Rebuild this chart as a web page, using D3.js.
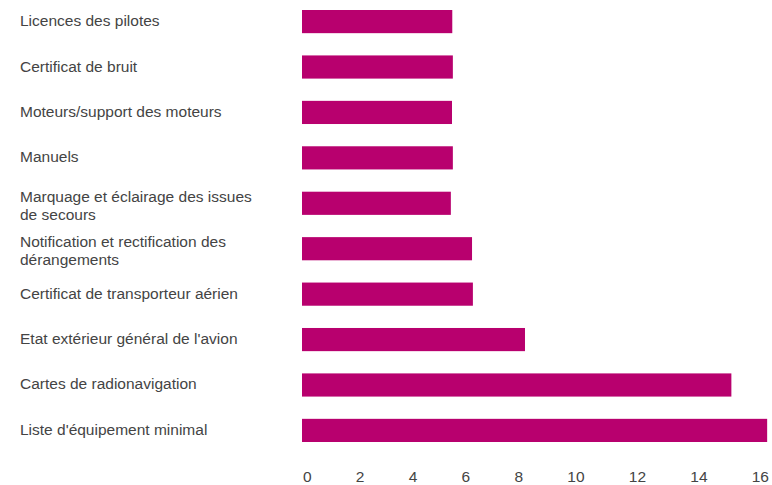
<!DOCTYPE html>
<html>
<head>
<meta charset="utf-8">
<script src="https://cdn.jsdelivr.net/npm/d3@7"></script>
<style>
  html, body { margin: 0; padding: 0; background: #fff; }
  svg { display: block; }
  text { font-family: "Liberation Sans", Arial, Helvetica, sans-serif; }
</style>
</head>
<body>
<svg id="chart" width="772" height="485"></svg>
<script>
const categories = [
  "Licences des pilotes",
  "Certificat de bruit",
  "Moteurs/support des moteurs",
  "Manuels",
  "Marquage et éclairage des issues de secours",
  "Notification et rectification des dérangements",
  "Certificat de transporteur aérien",
  "Etat extérieur général de l'avion",
  "Cartes de radionavigation",
  "Liste d'équipement minimal"
];
const values = [5.25, 5.27, 5.24, 5.27, 5.2, 5.94, 5.97, 7.79, 15.0, 16.25];
const tickValues = [0, 2, 4, 6, 8, 10, 12, 14, 16];

const W = 772, H = 485;
const barColor = "#b8006e";
const textColor = "#444";
const fontSize = 15.5;
const lineHeight = 18;
const labelX = 20;
const wrapWidth = 240;

const svg = d3.select("#chart");

const x = d3.scaleLinear().domain([0, 16]).range([302, 760]);
const y = d3.scaleBand().domain(categories).range([10, 442]).paddingInner(0.49).paddingOuter(0);

// Bars
svg.append("g").selectAll("rect")
  .data(categories.map((c, i) => ({ c, v: values[i] })))
  .join("rect")
  .attr("x", x(0))
  .attr("y", d => y(d.c))
  .attr("width", d => x(d.v) - x(0))
  .attr("height", y.bandwidth())
  .attr("fill", barColor);

// Category labels with wrapping
const labels = svg.append("g").selectAll("text")
  .data(categories)
  .join("text")
  .attr("x", labelX)
  .attr("fill", textColor)
  .attr("font-size", fontSize);

labels.each(function(c) {
  const t = d3.select(this);
  const words = c.split(" ");
  const lines = [];
  let line = [];
  const probe = t.append("tspan");
  words.forEach(w => {
    const trial = line.concat([w]).join(" ");
    probe.text(trial);
    if (probe.node().getComputedTextLength() > wrapWidth && line.length) {
      lines.push(line.join(" "));
      line = [w];
    } else {
      line.push(w);
    }
  });
  lines.push(line.join(" "));
  probe.remove();
  const n = lines.length;
  const center = y(c) + y.bandwidth() / 2;
  const first = center + 4.5 - (n - 1) * (lineHeight / 2) + (n - 1) * 3;
  lines.forEach((l, k) => {
    t.append("tspan").attr("x", labelX).attr("y", first + k * lineHeight).text(l);
  });
});

// Bottom axis labels (no domain line, no ticks)
const axisG = svg.append("g")
  .attr("transform", `translate(0, ${H - 14})`)
  .call(d3.axisBottom(x).tickValues(tickValues).tickSize(0).tickPadding(0).tickFormat(d3.format("d")));
axisG.select(".domain").remove();
axisG.selectAll("text")
  .attr("fill", textColor)
  .attr("font-size", fontSize)
  .attr("font-family", "Liberation Sans, Arial, Helvetica, sans-serif")
  .attr("dy", "0.71em");

// Labels distributed edge-to-edge (space-between) as in the original layout
const tickTexts = axisG.selectAll(".tick");
const widths = [];
tickTexts.each(function() { widths.push(d3.select(this).select("text").node().getComputedTextLength()); });
const left = x(0) + 1, right = 769;
const gap = (right - left - d3.sum(widths)) / (widths.length - 1);
let cur = left;
tickTexts.each(function(d, i) {
  const cx = cur + widths[i] / 2;
  d3.select(this).attr("transform", `translate(${cx},0)`);
  cur += widths[i] + gap;
});
</script>
</body>
</html>
